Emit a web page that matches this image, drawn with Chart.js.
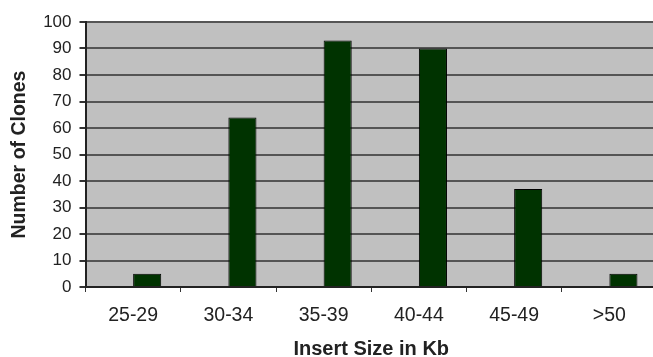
<!DOCTYPE html>
<html>
<head>
<meta charset="utf-8">
<script src="https://cdn.jsdelivr.net/npm/chart.js@4"></script>
<style>
  html, body { margin: 0; padding: 0; background: #fff; overflow: hidden; }
  #wrap { width: 662px; height: 357px; }
</style>
</head>
<body>
<div id="wrap"><canvas id="clonesChart" width="662" height="357"></canvas></div>
<script>
const sizeLabels = ["25-29", "30-34", "35-39", "40-44", "45-49", ">50"];
const cloneCounts = [5, 64, 93, 90, 37, 5];
// the original sheet had an empty first series, which pushes the bars right of centre
const emptySeries = [null, null, null, null, null, null];
const yTicks = [0, 10, 20, 30, 40, 50, 60, 70, 80, 90, 100];

const plotBg = {
  id: "plotBg",
  beforeDraw(chart) {
    const { ctx, chartArea } = chart;
    ctx.save();
    ctx.fillStyle = "#c0c0c0";
    ctx.fillRect(chartArea.left, chartArea.top, chartArea.right - chartArea.left, chartArea.bottom - chartArea.top);
    ctx.restore();
  },
};

const ctx = document.getElementById("clonesChart").getContext("2d");

window.clonesChart = new Chart(ctx, {
  type: "bar",
  data: {
    labels: sizeLabels,
    datasets: [
      {
        label: "",
        data: emptySeries,
      },
      {
        label: "Number of Clones",
        data: cloneCounts,
        backgroundColor: "#003300",
        borderColor: "#000000",
        borderWidth: 1,
      },
    ],
  },
  options: {
    responsive: false,
    animation: false,
    datasets: {
      bar: { barPercentage: 1, categoryPercentage: 0.59 },
    },
    layout: {
      padding: { top: 22, right: 5, left: 0, bottom: 0 },
    },
    scales: {
      x: {
        afterFit: (axis) => { axis.height = 70; },
        grid: {
          offset: true,
          drawOnChartArea: false,
          drawTicks: true,
          tickLength: 5,
          tickColor: "#333333",
        },
        border: { color: "#222222", width: 2 },
        ticks: {
          color: "#222222",
          padding: 14,
          font: { family: "Liberation Sans", size: 19.5, lineHeight: 1 },
        },
        title: {
          display: true,
          text: "Insert Size in Kb",
          color: "#222222",
          padding: 0,
          font: { family: "Liberation Sans", size: 20, weight: "bold", lineHeight: 0.8 },
        },
      },
      y: {
        min: 0,
        max: 100,
        afterFit: (axis) => { axis.width = 85.5; },
        afterBuildTicks: (axis) => { axis.ticks = yTicks.map((v) => ({ value: v })); },
        grid: {
          color: "#555555",
          lineWidth: 2,
          tickLength: 6,
          tickColor: "#333333",
        },
        border: { color: "#222222", width: 2 },
        ticks: {
          color: "#222222",
          padding: 8,
          font: { family: "Liberation Sans", size: 17 },
        },
        title: {
          display: true,
          text: "Number of Clones",
          color: "#222222",
          padding: { top: 10, bottom: 0 },
          font: { family: "Liberation Sans", size: 19.5, weight: "bold", lineHeight: 1 },
        },
      },
    },
    plugins: {
      legend: { display: false },
      tooltip: { enabled: false },
    },
  },
  plugins: [plotBg],
});
</script>
</body>
</html>
